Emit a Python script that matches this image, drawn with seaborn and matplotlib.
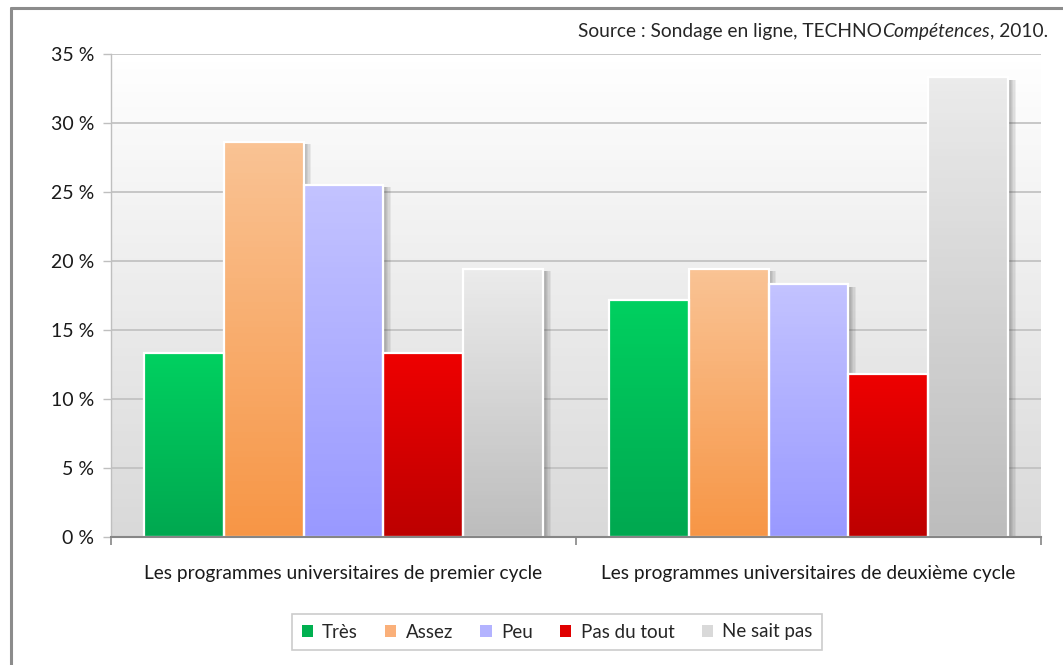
#! /usr/bin/env python3

import numpy as np
import pandas as pd
import seaborn as sns
import matplotlib.pyplot as plt
import matplotlib.patheffects as pe
from matplotlib.lines import Line2D
from matplotlib.patches import Rectangle
from matplotlib.colors import to_rgb
from matplotlib.ticker import FuncFormatter, FixedLocator

programmes = ['Les programmes universitaires de premier cycle',
              'Les programmes universitaires de deuxième cycle']
responses = ['Très', 'Assez', 'Peu', 'Pas du tout', 'Ne sait pas']
premier_cycle = [13.3, 28.6, 25.5, 13.3, 19.4]
deuxieme_cycle = [17.2, 19.4, 18.3, 11.8, 33.3]

# colour at top / bottom of each bar (vertical gradient)
top_colors = ['#00d060', '#fac394', '#c3c3ff', '#ee0000', '#ebebeb']
bottom_colors = ['#00a850', '#f79646', '#9999ff', '#bd0000', '#bdbdbd']
legend_colors = ['#00b050', '#fab07a', '#b3b3ff', '#e00000', '#d9d9d9']


def build_frame():
    rows = []
    for prog, vals in zip(programmes, [premier_cycle, deuxieme_cycle]):
        for resp, v in zip(responses, vals):
            rows.append({'programme': prog, 'reponse': resp, 'valeur': v})
    return pd.DataFrame(rows)


def gradient(c_top, c_bottom, n=64):
    t = np.linspace(0, 1, n)[:, None, None]
    a = np.array(to_rgb(c_top))[None, None, :]
    b = np.array(to_rgb(c_bottom))[None, None, :]
    return a * (1 - t) + b * t


def plot(output):
    df = build_frame()

    sns.set_style('white')
    plt.rcParams['font.family'] = ['Lato', 'DejaVu Sans']

    W, H = 1063, 665
    fig = plt.figure(figsize=(W / 100, H / 100), dpi=100)
    ax = fig.add_axes([111 / W, 1 - 537 / H, (1041 - 111) / W, (537 - 54) / H])

    ax.imshow(gradient('#ffffff', '#d9d9d9'), extent=(0, 1, 0, 1),
              transform=ax.transAxes, aspect='auto', zorder=0)

    sns.barplot(data=df, x='programme', y='valeur', hue='reponse',
                hue_order=responses, palette=legend_colors,
                width=0.86, ax=ax, zorder=2, legend=True)

    # soft drop shadow: a few stacked translucent offsets
    shadow = [pe.SimplePatchShadow(offset=(k, -1.5), shadow_rgbFace='#404040',
                                   alpha=0.08) for k in (0.5, 1.5, 2.5, 3.5, 4.5, 5.5)]
    shadow.append(pe.Normal())
    for i, cont in enumerate(ax.containers):
        for p in cont.patches:
            p.set_edgecolor('white')
            p.set_linewidth(0)
            p.set_path_effects(shadow)
            x0, y0 = p.get_x(), p.get_y()
            w, h = p.get_width(), p.get_height()
            im = ax.imshow(gradient(top_colors[i], bottom_colors[i]),
                           extent=(x0, x0 + w, y0, y0 + h), aspect='auto',
                           origin='upper', zorder=2.1)
            im.set_clip_path(p)
            ax.add_patch(Rectangle((x0, y0), w, h, fill=False,
                                   edgecolor='white', linewidth=1.6, zorder=2.2))

    ax.set_xlim(-0.5, 1.5)
    ax.set_ylim(0, 35)
    ax.set_yticks(range(0, 36, 5))
    ax.yaxis.set_major_formatter(FuncFormatter(lambda v, pos: f'{v:.0f} %'))
    ax.grid(axis='y', color='#bfbfbf', linewidth=1.2)
    ax.set_axisbelow(True)

    ax.xaxis.set_minor_locator(FixedLocator([-0.5, 0.5, 1.5]))
    ax.tick_params(axis='x', which='major', length=0, pad=20, labelsize=13.8,
                   labelcolor='#1a1a1a')
    ax.tick_params(axis='x', which='minor', length=6, width=1.2,
                   color='#868686', direction='out')
    ax.tick_params(axis='y', length=6, width=1, color='#bfbfbf',
                   direction='out', labelsize=14, labelcolor='#1a1a1a', pad=6)
    ax.tick_params(axis='both', bottom=True, left=True, which='both')
    ax.set(xlabel='', ylabel='')

    for side in ['top', 'right']:
        ax.spines[side].set_visible(False)
    ax.spines['left'].set_color('#bfbfbf')
    ax.spines['left'].set_linewidth(1)
    ax.spines['bottom'].set_color('#868686')
    ax.spines['bottom'].set_linewidth(1.5)

    ax.get_legend().remove()
    handles = [Rectangle((0, 0), 1, 1, facecolor=c, edgecolor='none')
               for c in legend_colors]
    leg = fig.legend(handles, responses, loc='center', ncol=5,
                     bbox_to_anchor=(557 / W, 1 - 632 / H),
                     bbox_transform=fig.transFigure, fontsize=13.5,
                     handlelength=0.6, handleheight=0.6, handletextpad=0.5,
                     columnspacing=1.45, borderpad=0.5, fancybox=False,
                     frameon=True)
    leg.get_frame().set_edgecolor('#bfbfbf')
    leg.get_frame().set_linewidth(1.2)

    # outer frame (left and top only)
    fig.add_artist(Line2D([11 / W, 11 / W], [0, 1 - 8 / H], color='#8c8c8c',
                          linewidth=2.2, transform=fig.transFigure))
    fig.add_artist(Line2D([11 / W, 1], [1 - 8 / H, 1 - 8 / H], color='#8c8c8c',
                          linewidth=2.2, transform=fig.transFigure))

    # source line: plain + italic + plain, right aligned
    fig.canvas.draw()
    r = fig.canvas.get_renderer()
    y = 1 - 31 / H
    x_right = 1048 / W
    t3 = fig.text(x_right, y, ', 2010.', ha='right', va='center', fontsize=13.8)
    bb = t3.get_window_extent(r)
    t2 = fig.text(bb.x0 / W, y, 'Compétences', ha='right', va='center',
                  fontsize=13.8, style='italic')
    bb = t2.get_window_extent(r)
    fig.text(bb.x0 / W, y, 'Source : Sondage en ligne, TECHNO', ha='right',
             va='center', fontsize=13.8)

    fig.savefig(output, dpi=100)


def main():
    plot('out.png')


if __name__ == '__main__':
    main()
